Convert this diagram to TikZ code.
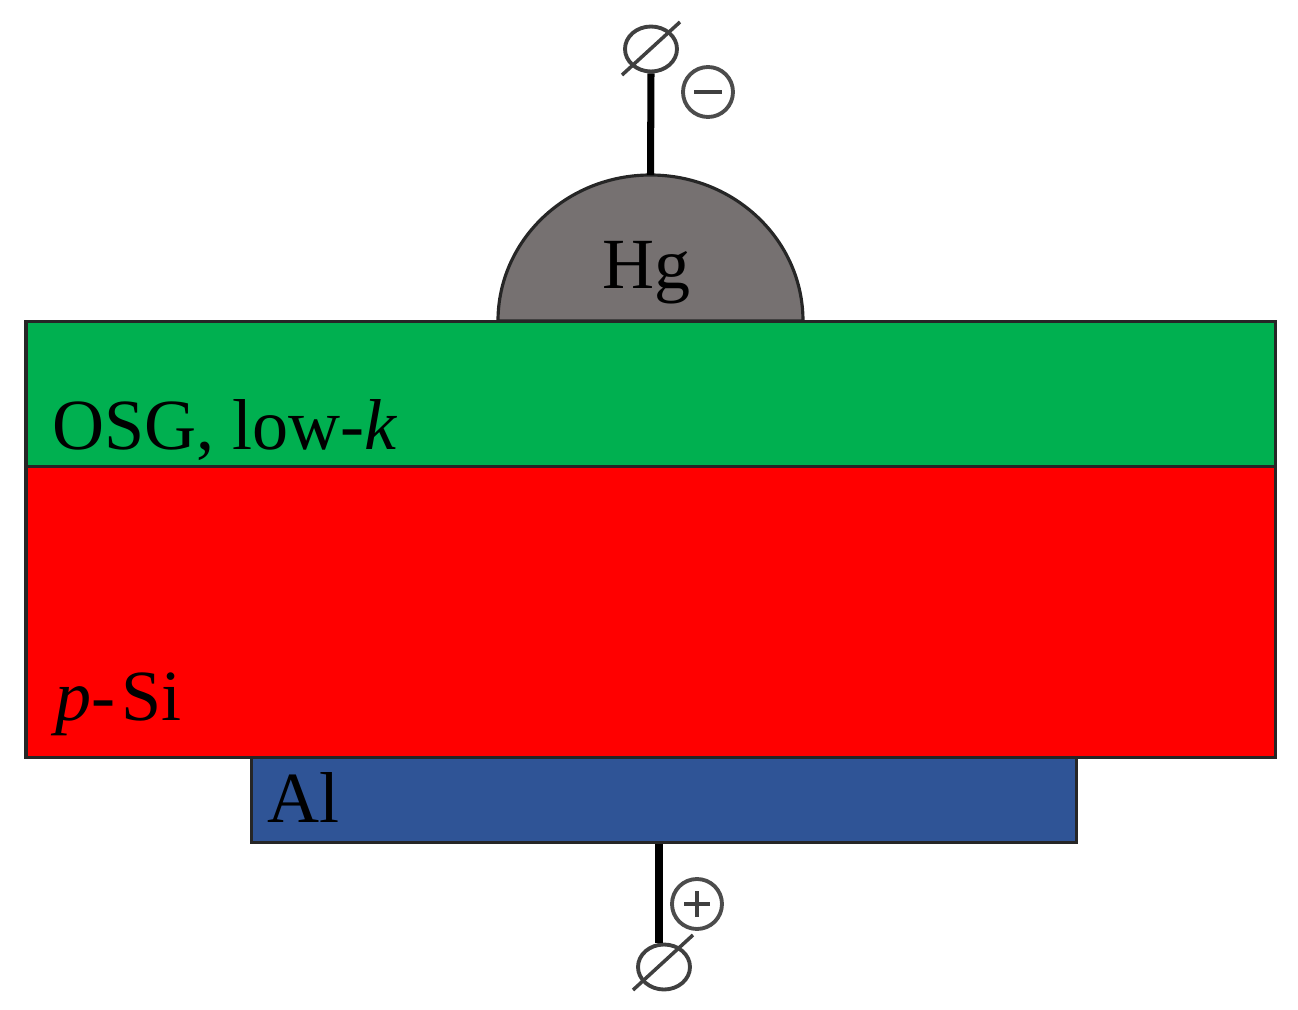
\documentclass[tikz,border=0pt]{standalone}
\usepackage{fontspec}
\setmainfont{Liberation Serif}
\usetikzlibrary{shapes.geometric}
\definecolor{osggreen}{RGB}{0,176,80}
\definecolor{sired}{RGB}{255,0,0}
\definecolor{alblue}{RGB}{47,84,150}
\definecolor{hggray}{RGB}{118,113,113}
\definecolor{edgegray}{RGB}{38,38,38}
\tikzset{
	layer/.style={draw=edgegray,line width=0.9pt,inner sep=0pt,rectangle,anchor=south west},
	lbl/.style={font=\fontsize{20.5}{24}\selectfont,text=black,inner sep=0pt,anchor=base west},
	wire/.style={draw=black,line width=2pt},
	thin wire/.style={draw=black!75,line width=1pt},
	term/.style={ellipse,draw=black!75,line width=1.1pt,minimum width=0.52cm,minimum height=0.45cm,inner sep=0pt},
	pole/.style={circle,draw=black!70,line width=1.1pt,minimum size=0.5cm,inner sep=0pt}
}
\begin{document}
\begin{tikzpicture}
	\useasboundingbox (0,0) rectangle (12.98,10.09);
	% mercury drop
	\coordinate (hgleft) at (4.98,6.88);
	\coordinate (hgright) at (8.03,6.88);
	\coordinate (hgtop) at (6.505,8.34);
	\draw [fill=hggray,draw=edgegray,line width=0.9pt] (hgleft) arc [start angle=180,end angle=0,x radius=1.525,y radius=1.46] -- cycle;
	% layers
	\node (osg) [layer,fill=osggreen,minimum width=12.49cm,minimum height=1.45cm] at (0.245,5.41) {};
	\node (si) [layer,fill=sired,minimum width=12.49cm,minimum height=2.91cm] at (0.245,2.5) {};
	\node (al) [layer,fill=alblue,minimum width=8.25cm,minimum height=0.85cm] at (2.495,1.65) {};
	% labels
	\node (hg) [lbl,anchor=base] at (6.47,7.21) {Hg};
	\node (osgl) [lbl] at (0.52,5.6) {OSG, low-\textit{k}};
	\node (sil) [lbl] at (0.55,2.89) {\textit{p}-\kern1.7pt Si};
	\node (all) [lbl] at (2.67,1.87) {Al};
	% top terminal
	\node (tterm) [term] at (6.51,9.6) {};
	\coordinate (ta) at (6.22,9.34);
	\coordinate (tb) at (6.8,9.87);
	\draw [wire] (tterm.south) -- (hgtop);
	\draw [thin wire] (ta) -- (tb);
	\node (minus) [pole] at (7.08,9.17) {};
	\coordinate (ma) at (6.94,9.17);
	\coordinate (mb) at (7.22,9.17);
	\draw [thin wire] (ma) -- (mb);
	% bottom terminal
	\node (bterm) [term] at (6.64,0.42) {};
	\coordinate (bwire) at (6.59,0.66);
	\coordinate (ba) at (6.33,0.19);
	\coordinate (bb) at (6.93,0.74);
	\draw [wire] (al.south -| bwire) -- (bwire);
	\draw [thin wire] (ba) -- (bb);
	\node (plus) [pole] at (6.97,1.05) {};
	\coordinate (pa) at (6.84,1.05);
	\coordinate (pb) at (7.1,1.05);
	\coordinate (pc) at (6.97,0.92);
	\coordinate (pd) at (6.97,1.18);
	\draw [thin wire] (pa) -- (pb);
	\draw [thin wire] (pc) -- (pd);
\end{tikzpicture}
\end{document}
